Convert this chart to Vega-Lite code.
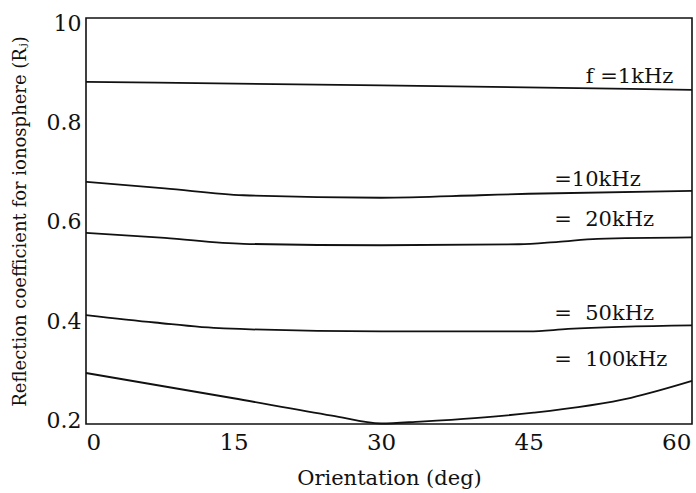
{
  "$schema": "https://vega.github.io/schema/vega-lite/v6.json",
  "autosize": {"type": "none"},
  "padding": {"left": 86, "top": 18, "right": 4, "bottom": 69},
  "width": 606,
  "height": 406,
  "background": "white",
  "config": {
    "view": {"stroke": "#111", "strokeWidth": 1.6},
    "font": "DejaVu Serif",
    "axis": {"grid": false, "ticks": false, "domain": false, "labelColor": "#111", "titleColor": "#111", "labelFont": "DejaVu Serif", "titleFont": "DejaVu Serif", "titleFontWeight": "normal"}
  },
  "datasets": {
    "curves": [
      {"f": "1kHz", "x": 0, "y": 0.883},
      {"f": "1kHz", "x": 30, "y": 0.876},
      {"f": "1kHz", "x": 61.6, "y": 0.867},
      {"f": "10kHz", "x": 0, "y": 0.681},
      {"f": "10kHz", "x": 8, "y": 0.668},
      {"f": "10kHz", "x": 16, "y": 0.654},
      {"f": "10kHz", "x": 30, "y": 0.649},
      {"f": "10kHz", "x": 40, "y": 0.654},
      {"f": "10kHz", "x": 45, "y": 0.657},
      {"f": "10kHz", "x": 61.6, "y": 0.663},
      {"f": "20kHz", "x": 0, "y": 0.578},
      {"f": "20kHz", "x": 8, "y": 0.568},
      {"f": "20kHz", "x": 16, "y": 0.556},
      {"f": "20kHz", "x": 30, "y": 0.553},
      {"f": "20kHz", "x": 44, "y": 0.555},
      {"f": "20kHz", "x": 48, "y": 0.560},
      {"f": "20kHz", "x": 52, "y": 0.566},
      {"f": "20kHz", "x": 61.6, "y": 0.569},
      {"f": "50kHz", "x": 0, "y": 0.412},
      {"f": "50kHz", "x": 7, "y": 0.397},
      {"f": "50kHz", "x": 14, "y": 0.385},
      {"f": "50kHz", "x": 30, "y": 0.379},
      {"f": "50kHz", "x": 45, "y": 0.379},
      {"f": "50kHz", "x": 49, "y": 0.384},
      {"f": "50kHz", "x": 61.6, "y": 0.391},
      {"f": "100kHz", "x": 0, "y": 0.295},
      {"f": "100kHz", "x": 15, "y": 0.244},
      {"f": "100kHz", "x": 25, "y": 0.209},
      {"f": "100kHz", "x": 30, "y": 0.193},
      {"f": "100kHz", "x": 34, "y": 0.197},
      {"f": "100kHz", "x": 39.5, "y": 0.204},
      {"f": "100kHz", "x": 45.5, "y": 0.215},
      {"f": "100kHz", "x": 55.4, "y": 0.245},
      {"f": "100kHz", "x": 61.6, "y": 0.279}
    ],
    "labels": [
      {"text": "f\u00a0=1kHz", "x": 50.8, "y": 0.893},
      {"text": "=10kHz", "x": 47.6, "y": 0.685},
      {"text": "=\u00a0\u00a020kHz", "x": 47.6, "y": 0.604},
      {"text": "=\u00a0\u00a050kHz", "x": 47.6, "y": 0.414},
      {"text": "=\u00a0\u00a0100kHz", "x": 47.6, "y": 0.321}
    ]
  },
  "layer": [
    {
      "data": {"name": "curves"},
      "mark": {"type": "line", "interpolate": "monotone", "color": "#111", "strokeWidth": 1.8},
      "encoding": {
        "x": {"field": "x", "type": "quantitative", "scale": {"domain": [0, 61.6], "nice": false, "zero": false},
              "axis": {"values": [0, 15, 30, 45, 60], "title": "Orientation (deg)", "labelFontSize": 23, "labelPadding": 7, "titleFontSize": 21, "titlePadding": 13}},
        "y": {"field": "y", "type": "quantitative", "scale": {"domain": [0.192, 1.012], "nice": false, "zero": false},
              "axis": {"values": [0.2, 0.4, 0.6, 0.8, 1.0], "labelExpr": "datum.value == 1 ? '10' : format(datum.value, '.1f')", "title": "Reflection coefficient for ionosphere (Rⱼ)", "labelFontSize": 22, "labelPadding": 5, "titleFontSize": 18, "titlePadding": 17}},
        "detail": {"field": "f", "type": "nominal"}
      }
    },
    {
      "data": {"name": "labels"},
      "mark": {"type": "text", "align": "left", "baseline": "middle", "fontSize": 21, "font": "DejaVu Serif", "color": "#111"},
      "encoding": {
        "x": {"field": "x", "type": "quantitative"},
        "y": {"field": "y", "type": "quantitative"},
        "text": {"field": "text", "type": "nominal"}
      }
    }
  ]
}
